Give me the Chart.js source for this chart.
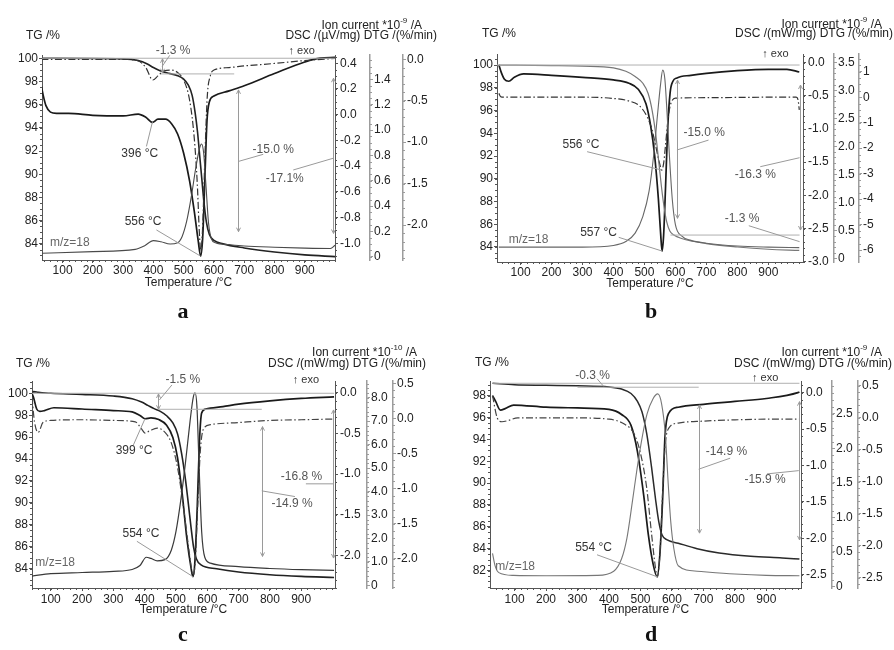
<!DOCTYPE html>
<html><head><meta charset="utf-8">
<script src="https://cdn.jsdelivr.net/npm/chart.js@4.4.1/dist/chart.umd.min.js"></script>
<style>
body{margin:0;background:#fff;width:894px;height:650px;position:relative;overflow:hidden;font-family:'Liberation Sans',Arial,Helvetica,sans-serif;}
canvas{position:absolute;}
.h{position:absolute;font-size:12px;line-height:14px;color:#222;white-space:nowrap;}
.h sup{font-size:8px;position:relative;top:-1px;}
.let{position:absolute;width:30px;text-align:center;font-family:'Liberation Serif','Times New Roman',serif;font-weight:bold;font-size:22px;line-height:22px;color:#111;}
</style></head><body>
<canvas id="ca" width="447" height="300" style="left:0;top:0"></canvas>
<canvas id="cb" width="447" height="300" style="left:447px;top:0"></canvas>
<canvas id="cc" width="447" height="300" style="left:0;top:320px"></canvas>
<canvas id="cd" width="447" height="300" style="left:447px;top:320px"></canvas>

<div class="h" style="left:26px;top:28px">TG /%</div>
<div class="h" style="right:472px;top:15px">Ion current *10<sup>-9</sup> /A</div>
<div class="h" style="right:457px;top:28px">DSC /(µV/mg) DTG /(%/min)</div>

<div class="h" style="left:482px;top:26px">TG /%</div>
<div class="h" style="right:12px;top:14px">Ion current *10<sup>-9</sup> /A</div>
<div class="h" style="right:1px;top:26px">DSC /(mW/mg) DTG /(%/min)</div>

<div class="h" style="left:16px;top:356px">TG /%</div>
<div class="h" style="right:477px;top:342px">Ion current *10<sup>-10</sup> /A</div>
<div class="h" style="right:468px;top:356px">DSC /(mW/mg) DTG /(%/min)</div>

<div class="h" style="left:475px;top:355px">TG /%</div>
<div class="h" style="right:12px;top:342px">Ion current *10<sup>-9</sup> /A</div>
<div class="h" style="right:2px;top:356px">DSC /(mW/mg) DTG /(%/min)</div>

<div class="let" style="left:168px;top:300px">a</div>
<div class="let" style="left:636px;top:300px">b</div>
<div class="let" style="left:168px;top:623px">c</div>
<div class="let" style="left:636px;top:623px">d</div>

<script>
// ================= DATA =================
const xTickLabels = ['100','200','300','400','500','600','700','800','900'];

// ---- panel a ----
const aTgTicks  = ['84','86','88','90','92','94','96','98','100'];
const aDscTicks = ['-1.0','-0.8','-0.6','-0.4','-0.2','0.0','0.2','0.4'];
const aIonTicks = ['0','0.2','0.4','0.6','0.8','1.0','1.2','1.4'];
const aDtgTicks = ['-2.0','-1.5','-1.0','-0.5','0.0'];
const aTG_T  = [30,300,350,380,400,420,450,480,500,515,528,538,546,553,560,567,575,585,600,630,700,800,900,1000];
const aTG    = [100.0,99.95,99.8,99.5,99.2,98.95,98.7,98.5,98.2,97.7,96.8,95.3,93.6,91.6,89.6,87.6,85.9,84.8,84.3,84.0,83.65,83.3,83.05,82.9];
const aDSC_T = [30,36,45,60,80,120,200,300,350,375,397,415,440,460,480,500,520,535,548,556,563,570,577,585,600,650,700,800,900,950,1000];
const aDSC   = [0.22,0.15,0.07,0.02,0.01,0.01,-0.005,-0.01,0.005,-0.02,-0.06,-0.035,-0.035,-0.07,-0.15,-0.3,-0.52,-0.75,-0.98,-1.10,-0.95,-0.5,-0.05,0.1,0.145,0.185,0.225,0.32,0.41,0.44,0.445];
const aIon_T = [30,200,340,370,400,425,455,480,495,510,525,540,552,559,566,574,582,592,605,650,700,800,900,985,1000];
const aIon   = [0.027,0.04,0.058,0.085,0.127,0.118,0.10,0.11,0.16,0.28,0.47,0.70,0.85,0.89,0.82,0.55,0.27,0.14,0.11,0.095,0.085,0.075,0.068,0.065,0.09];
const aDTG_T = [30,300,350,375,398,415,435,460,480,500,520,535,545,552,557,563,570,578,588,600,650,700,800,900,1000];
const aDTG   = [0,0,-0.02,-0.1,-0.25,-0.2,-0.14,-0.13,-0.16,-0.25,-0.5,-0.95,-1.5,-2.1,-2.32,-2.0,-1.2,-0.45,-0.2,-0.13,-0.1,-0.08,-0.05,-0.015,0.01];

// ---- panel b ----
const bTgTicks  = ['84','86','88','90','92','94','96','98','100'];
const bDscTicks = ['-3.0','-2.5','-2.0','-1.5','-1.0','-0.5','0.0'];
const bIonTicks = ['0','0.5','1.0','1.5','2.0','2.5','3.0','3.5'];
const bDtgTicks = ['-6','-5','-4','-3','-2','-1','0','1'];
const bTG_T  = [30,200,300,400,440,470,495,512,525,537,547,555,563,572,582,595,620,700,800,900,1000];
const bTG    = [100,99.95,99.9,99.75,99.45,99.0,98.4,97.5,96.0,93.8,91.3,89.3,87.6,86.2,85.4,85.05,84.75,84.3,84.0,83.8,83.7];
const bDSC_T = [30,38,48,62,80,110,200,300,400,450,480,505,520,533,545,552,557,562,568,575,583,592,605,650,700,800,900,960,1000];
const bDSC   = [-0.03,-0.15,-0.25,-0.28,-0.22,-0.17,-0.19,-0.22,-0.26,-0.31,-0.4,-0.62,-0.95,-1.4,-2.05,-2.55,-2.84,-2.6,-1.9,-1.0,-0.45,-0.28,-0.23,-0.19,-0.16,-0.12,-0.1,-0.1,-0.14];
const bIon_T = [30,200,300,400,440,470,495,515,530,542,552,559,566,573,581,590,600,620,650,700,800,900,1000];
const bIon   = [0.2,0.2,0.2,0.23,0.3,0.45,0.75,1.2,1.85,2.55,3.1,3.36,3.2,2.6,1.8,1.05,0.6,0.4,0.32,0.27,0.22,0.2,0.19];
const bDTG_T = [30,36,45,300,400,450,485,510,525,538,548,556,562,568,575,582,590,600,700,900,990,996,1000];
const bDTG   = [0.15,0.02,0.0,0.0,-0.05,-0.15,-0.35,-0.8,-1.3,-2.0,-2.55,-2.86,-2.6,-1.9,-1.0,-0.4,-0.12,-0.04,-0.02,0.0,0.0,-0.1,-0.5];

// ---- panel c ----
const cTgTicks  = ['84','86','88','90','92','94','96','98','100'];
const cDscTicks = ['-2.0','-1.5','-1.0','-0.5','0.0'];
const cIonTicks = ['0','1.0','2.0','3.0','4.0','5.0','6.0','7.0','8.0'];
const cDtgTicks = ['-2.0','-1.5','-1.0','-0.5','0.0','0.5'];
const cTG_T  = [40,45,60,100,200,300,360,390,410,430,450,470,490,505,518,530,540,548,556,565,580,630,700,800,900,1005];
const cTG    = [100.0,100.15,100.1,100.0,99.9,99.75,99.5,99.2,98.9,98.6,98.35,97.95,97.3,96.3,94.5,92.2,89.8,87.8,86.0,84.9,84.35,84.0,83.7,83.45,83.3,83.2];
const cDSC_T = [40,45,55,65,80,110,200,300,360,385,401,420,445,470,490,505,520,535,548,554,560,568,575,582,595,650,700,800,900,1005];
const cDSC   = [-0.01,-0.06,-0.2,-0.23,-0.22,-0.185,-0.2,-0.22,-0.235,-0.28,-0.32,-0.31,-0.33,-0.4,-0.55,-0.8,-1.25,-1.8,-2.15,-2.26,-2.1,-1.4,-0.6,-0.25,-0.2,-0.17,-0.14,-0.1,-0.07,-0.05];
const cIon_T = [40,100,200,300,360,385,405,420,440,465,485,500,515,530,545,555,561,567,574,582,592,610,700,800,900,1005];
const cIon   = [0.4,0.5,0.55,0.6,0.68,0.85,1.2,1.15,1.05,1.1,1.5,2.3,3.6,5.2,7.0,8.0,8.21,7.6,5.0,2.3,1.2,0.95,0.8,0.72,0.67,0.64];
const cDTG_T = [40,48,60,75,100,200,300,370,390,401,415,440,465,485,505,525,542,552,556,562,570,578,588,610,700,800,900,1005];
const cDTG   = [0.3,-0.05,-0.2,-0.06,-0.03,-0.02,-0.03,-0.05,-0.15,-0.21,-0.18,-0.14,-0.2,-0.35,-0.7,-1.3,-1.9,-2.2,-2.23,-2.0,-1.2,-0.45,-0.15,-0.09,-0.06,-0.03,-0.02,-0.01];

// ---- panel d ----
const dTgTicks  = ['82','84','86','88','90','92','94','96','98'];
const dDscTicks = ['-2.5','-2.0','-1.5','-1.0','-0.5','0.0'];
const dIonTicks = ['0','0.5','1.0','1.5','2.0','2.5'];
const dDtgTicks = ['-2.5','-2.0','-1.5','-1.0','-0.5','0.0','0.5'];
const dTG_T  = [30,100,200,300,400,440,470,490,505,520,535,548,558,568,585,620,680,750,850,950,1005];
const dTG    = [99.13,99.0,98.95,98.9,98.8,98.6,98.2,97.5,96.5,94.5,91.5,88.5,86.5,85.3,84.8,84.5,84.0,83.6,83.3,83.15,83.05];
const dDSC_T = [30,40,55,70,97,200,300,400,440,470,490,510,525,540,553,562,570,578,590,620,700,800,900,1000,1005];
const dDSC   = [-0.04,-0.12,-0.24,-0.22,-0.17,-0.2,-0.21,-0.23,-0.3,-0.45,-0.8,-1.4,-1.95,-2.35,-2.53,-2.2,-1.5,-0.6,-0.28,-0.2,-0.16,-0.12,-0.08,0.0,0.01];
const dIon_T = [30,38,50,97,200,362,415,440,457,475,489,505,521,540,555,567,579,588,596,606,620,680,800,900,1005];
const dIon   = [0.48,0.3,0.2,0.16,0.155,0.16,0.22,0.4,0.7,1.25,1.7,2.15,2.5,2.72,2.79,2.65,2.2,1.5,0.95,0.55,0.3,0.22,0.18,0.16,0.155];
const dDTG_T = [30,45,60,80,110,300,400,450,480,500,520,535,548,554,562,570,578,590,620,700,800,900,1005];
const dDTG   = [0.35,0.0,-0.06,-0.04,0.0,0.0,-0.02,-0.1,-0.25,-0.55,-1.1,-1.8,-2.35,-2.48,-2.1,-1.2,-0.45,-0.16,-0.08,-0.05,-0.03,-0.02,-0.02];

// ================= RENDERING =================
const FONT = "'Liberation Sans', Arial, Helvetica, sans-serif";
Chart.defaults.font.family = FONT;
Chart.defaults.font.size = 12;
Chart.defaults.color = '#222';

function yAx(pos, weight, range, labels, width, pad, col, bw) {
  return {
    type: 'linear', position: pos, weight: weight, min: range[0], max: range[1],
    afterBuildTicks: s => { s.ticks = labels.map(l => ({ value: parseFloat(l) })); },
    afterFit: s => { s.width = width; },
    ticks: { autoSkip: false, padding: pad, color: '#222', callback: (v, i) => labels[i] },
    grid: { drawOnChartArea: false, drawTicks: true, tickLength: 3, color: col },
    border: { display: true, color: col, width: bw }
  };
}

function series(T, V, axis, color, width, dash) {
  return {
    data: T.map((t, i) => ({ x: t, y: V[i] })),
    yAxisID: axis, borderColor: color, borderWidth: width, borderDash: dash || [],
    pointRadius: 0, fill: false, cubicInterpolationMode: 'monotone'
  };
}

const DASHDOT = [7, 2.5, 1.5, 2.5];

function annotPlugin(items) {
  return {
    id: 'annot',
    afterDatasetsDraw(chart) {
      const c = chart.ctx, xs = chart.scales.x;
      const P = (T, v, ax) => [xs.getPixelForValue(T), chart.scales[ax || 'tg'].getPixelForValue(v)];
      c.save();
      c.lineWidth = 1;
      for (const it of items) {
        if (it.t === 'ln') {
          const a = P(...it.a), b = P(...it.b);
          c.strokeStyle = it.c || '#9a9a9a';
          c.beginPath(); c.moveTo(a[0], a[1]); c.lineTo(b[0], b[1]); c.stroke();
        } else if (it.t === 'dbl') {
          const a = P(it.T, it.v1), b = P(it.T, it.v2);
          const x = Math.round(a[0]) + 0.5;
          c.strokeStyle = '#9a9a9a';
          c.beginPath(); c.moveTo(x, a[1]); c.lineTo(x, b[1]); c.stroke();
          c.beginPath(); c.moveTo(x - 2, a[1] + 4); c.lineTo(x, a[1]); c.lineTo(x + 2, a[1] + 4); c.stroke();
          c.beginPath(); c.moveTo(x - 2, b[1] - 4); c.lineTo(x, b[1]); c.lineTo(x + 2, b[1] - 4); c.stroke();
        } else if (it.t === 'tx') {
          const p = P(it.T, it.v);
          c.fillStyle = it.c || '#555';
          c.font = (it.s || 12) + 'px ' + FONT;
          c.textAlign = 'center'; c.textBaseline = 'middle';
          c.fillText(it.txt, p[0], p[1]);
        }
      }
      c.restore();
    }
  };
}

function minorPlugin(spec) {
  return {
    id: 'minor',
    afterDraw(chart) {
      const c = chart.ctx;
      c.save(); c.lineWidth = 1;
      for (const id in spec) {
        const s = chart.scales[id], step = spec[id];
        c.strokeStyle = s.options.border.color;
        const start = Math.ceil(s.min / step - 1e-9);
        for (let k = start; k * step <= s.max + 1e-9; k++) {
          const p = Math.round(s.getPixelForValue(k * step)) + 0.5;
          c.beginPath();
          if (id === 'x') { c.moveTo(p, s.top); c.lineTo(p, s.top + 2); }
          else if (s.position === 'left') { c.moveTo(s.right, p); c.lineTo(s.right - 2, p); }
          else { c.moveTo(s.left, p); c.lineTo(s.left + 2, p); }
          c.stroke();
        }
      }
      c.restore();
    }
  };
}

function build(id, P) {
  const scales = {
    x: {
      type: 'linear', position: 'bottom', min: P.x[0], max: P.x[1],
      afterBuildTicks: s => { s.ticks = xTickLabels.map(l => ({ value: parseFloat(l) })); },
      afterFit: s => { s.height = P.xh; },
      ticks: { autoSkip: false, maxRotation: 0, padding: P.xpad, color: '#222', callback: (v, i) => xTickLabels[i] },
      grid: { drawOnChartArea: false, tickLength: 3, color: '#555' },
      border: { color: '#555', width: 1 },
      title: { display: true, text: 'Temperature /°C', color: '#222', font: { size: 12 }, padding: { top: 0, bottom: P.tpad } }
    },
    tg:  yAx('left', 0, P.tg, P.ticks[0], P.lw, 1, '#555', 1),
    dsc: yAx('right', 1, P.dsc, P.ticks[1], P.rw[0], 2, '#555', 1),
    ion: yAx('right', 2, P.ion, P.ticks[2], P.rw[1], 1, '#9c9c9c', 1.5),
    dtg: yAx('right', 3, P.dtg, P.ticks[3], P.rw[2], 1, '#9c9c9c', 1.5)
  };
  new Chart(document.getElementById(id), {
    type: 'line',
    data: { datasets: P.ds },
    options: {
      responsive: false, animation: false, devicePixelRatio: 1,
      layout: { padding: { top: P.top, left: 0, right: 0, bottom: 0 } },
      plugins: { legend: { display: false }, tooltip: { enabled: false } },
      scales: scales
    },
    plugins: [annotPlugin(P.ann), minorPlugin(P.minor)]
  });
}

// ---- panel a ----
build('ca', {
  x: [32, 1000], xh: 40, xpad: 0, tpad: 10, top: 55, lw: 42, rw: [35, 33, 44],
  tg: [82.61, 100.28], dsc: [-1.13, 0.464], ion: [-0.026, 1.592], dtg: [-2.422, 0.052],
  ticks: [aTgTicks, aDscTicks, aIonTicks, aDtgTicks],
  minor: { x: 20, tg: 0.5, dsc: 0.05, ion: 0.05, dtg: 0.1 },
  ds: [
    series(aIon_T, aIon, 'ion', '#4a4a4a', 1.1),
    series(aDTG_T, aDTG, 'dtg', '#333', 1.2, DASHDOT),
    series(aTG_T, aTG, 'tg', '#222', 1.6),
    series(aDSC_T, aDSC, 'dsc', '#1a1a1a', 1.7)
  ],
  ann: [
    { t: 'ln', a: [32, 100], b: [1000, 100], c: '#b0b0b0' },
    { t: 'ln', a: [425, 98.65], b: [667, 98.65], c: '#b0b0b0' },
    { t: 'dbl', T: 429, v1: 99.95, v2: 98.75 },
    { t: 'ln', a: [429, 99.3], b: [454, 100.25] },
    { t: 'tx', T: 465, v: 100.66, txt: '-1.3 %' },
    { t: 'dbl', T: 680, v1: 97.27, v2: 85.05 },
    { t: 'ln', a: [680, 91.1], b: [763, 91.72] },
    { t: 'tx', T: 796, v: 92.09, txt: '-15.0 %' },
    { t: 'dbl', T: 994, v1: 98.28, v2: 84.9 },
    { t: 'ln', a: [994, 91.38], b: [862, 90.37] },
    { t: 'tx', T: 834, v: 89.66, txt: '-17.1%' },
    { t: 'tx', T: 355, v: 91.8, txt: '396 °C', c: '#333' },
    { t: 'ln', a: [377, 92.4], b: [397, -0.055, 'dsc'] },
    { t: 'tx', T: 366, v: 85.9, txt: '556 °C', c: '#333' },
    { t: 'ln', a: [410, 85.2], b: [556, -1.10, 'dsc'] },
    { t: 'tx', T: 124, v: 84.14, txt: 'm/z=18', c: '#666' },
    { t: 'tx', T: 890, v: 100.6, txt: '↑ exo', c: '#333', s: 11 }
  ]
});

// ---- panel b ----
build('cb', {
  x: [24, 1012], xh: 38, xpad: 0, tpad: 9.5, top: 54, lw: 50, rw: [31, 25, 35],
  tg: [82.68, 100.97], dsc: [-3.005, 0.131], ion: [-0.066, 3.648], dtg: [-6.47, 1.696],
  ticks: [bTgTicks, bDscTicks, bIonTicks, bDtgTicks],
  minor: { x: 20, tg: 0.5, dsc: 0.1, ion: 0.1, dtg: 0.25 },
  ds: [
    series(bIon_T, bIon, 'ion', '#666', 1.1),
    series(bTG_T, bTG, 'tg', '#777', 1.2),
    series(bDTG_T, bDTG, 'dtg', '#333', 1.2, DASHDOT),
    series(bDSC_T, bDSC, 'dsc', '#1a1a1a', 1.7)
  ],
  ann: [
    { t: 'ln', a: [24, 100], b: [1001, 100], c: '#b0b0b0' },
    { t: 'ln', a: [584, 85.05], b: [1001, 85.05], c: '#b0b0b0' },
    { t: 'dbl', T: 605, v1: 98.68, v2: 86.52 },
    { t: 'ln', a: [605, 92.53], b: [707, 93.4] },
    { t: 'tx', T: 693, v: 94.08, txt: '-15.0 %' },
    { t: 'dbl', T: 1001, v1: 98.24, v2: 85.49 },
    { t: 'ln', a: [1001, 91.85], b: [874, 91.06] },
    { t: 'tx', T: 858, v: 90.33, txt: '-16.3 %' },
    { t: 'tx', T: 815, v: 86.46, txt: '-1.3 %' },
    { t: 'ln', a: [837, 85.87], b: [1001, 84.47] },
    { t: 'tx', T: 295, v: 92.97, txt: '556 °C', c: '#333' },
    { t: 'ln', a: [315, 92.38], b: [556, -2.86, 'dtg'] },
    { t: 'tx', T: 352, v: 85.26, txt: '557 °C', c: '#333' },
    { t: 'ln', a: [417, 84.85], b: [557, -2.84, 'dsc'] },
    { t: 'tx', T: 126, v: 84.68, txt: 'm/z=18', c: '#666' },
    { t: 'tx', T: 923, v: 101.0, txt: '↑ exo', c: '#333', s: 11 }
  ]
});

// ---- panel c ----
build('cc', {
  x: [40, 1008], xh: 32, xpad: 1, tpad: 3.5, top: 61, lw: 32, rw: [32, 26, 54],
  tg: [82.24, 101.12], dsc: [-2.40, 0.144], ion: [-0.11, 8.71], dtg: [-2.418, 0.532],
  ticks: [cTgTicks, cDscTicks, cIonTicks, cDtgTicks],
  minor: { x: 20, tg: 0.5, dsc: 0.1, ion: 0.2, dtg: 0.1 },
  ds: [
    series(cIon_T, cIon, 'ion', '#3a3a3a', 1.2),
    series(cDTG_T, cDTG, 'dtg', '#444', 1.2, DASHDOT),
    series(cTG_T, cTG, 'tg', '#222', 1.6),
    series(cDSC_T, cDSC, 'dsc', '#1a1a1a', 1.7)
  ],
  ann: [
    { t: 'ln', a: [40, 100], b: [1005, 100], c: '#b0b0b0' },
    { t: 'ln', a: [444, 98.54], b: [774, 98.54], c: '#b0b0b0' },
    { t: 'dbl', T: 444, v1: 99.94, v2: 98.54 },
    { t: 'ln', a: [447, 99.39], b: [487, 100.76] },
    { t: 'tx', T: 522, v: 101.21, txt: '-1.5 %' },
    { t: 'dbl', T: 774, v1: 96.96, v2: 85.12 },
    { t: 'ln', a: [774, 91.1], b: [880, 90.58] },
    { t: 'tx', T: 871, v: 89.89, txt: '-14.9 %' },
    { t: 'dbl', T: 1002, v1: 98.48, v2: 84.97 },
    { t: 'ln', a: [915, 91.74], b: [1002, 91.74] },
    { t: 'tx', T: 901, v: 92.4, txt: '-16.8 %' },
    { t: 'tx', T: 366, v: 94.77, txt: '399 °C', c: '#333' },
    { t: 'ln', a: [364, 95.29], b: [401, -0.32, 'dsc'] },
    { t: 'tx', T: 388, v: 87.16, txt: '554 °C', c: '#333' },
    { t: 'ln', a: [375, 86.5], b: [554, -2.26, 'dsc'] },
    { t: 'tx', T: 114, v: 84.57, txt: 'm/z=18', c: '#666' },
    { t: 'tx', T: 915, v: 101.21, txt: '↑ exo', c: '#333', s: 11 }
  ]
});

// ---- panel d ----
build('cd', {
  x: [22, 1010], xh: 32, xpad: 1, tpad: 3, top: 61, lw: 43, rw: [31, 26, 36],
  tg: [80.4, 99.34], dsc: [-2.683, 0.16], ion: [-0.023, 2.977], dtg: [-2.657, 0.577],
  ticks: [dTgTicks, dDscTicks, dIonTicks, dDtgTicks],
  minor: { x: 20, tg: 0.5, dsc: 0.1, ion: 0.1, dtg: 0.1 },
  ds: [
    series(dIon_T, dIon, 'ion', '#777', 1.1),
    series(dDTG_T, dDTG, 'dtg', '#444', 1.2, DASHDOT),
    series(dTG_T, dTG, 'tg', '#2a2a2a', 1.5),
    series(dDSC_T, dDSC, 'dsc', '#1a1a1a', 1.7)
  ],
  ann: [
    { t: 'ln', a: [30, 99.13], b: [1005, 99.13], c: '#b0b0b0' },
    { t: 'ln', a: [300, 98.77], b: [685, 98.77], c: '#b0b0b0' },
    { t: 'ln', a: [362, 99.55], b: [383, 98.85] },
    { t: 'tx', T: 348, v: 99.8, txt: '-0.3 %' },
    { t: 'dbl', T: 685, v1: 97.15, v2: 85.42 },
    { t: 'ln', a: [685, 91.27], b: [785, 92.28] },
    { t: 'tx', T: 773, v: 92.88, txt: '-14.9 %' },
    { t: 'dbl', T: 1003, v1: 97.45, v2: 84.8 },
    { t: 'ln', a: [1003, 91.14], b: [902, 90.84] },
    { t: 'tx', T: 896, v: 90.3, txt: '-15.9 %' },
    { t: 'tx', T: 351, v: 84.05, txt: '554 °C', c: '#333' },
    { t: 'ln', a: [362, 83.44], b: [554, -2.53, 'dsc'] },
    { t: 'tx', T: 102, v: 82.31, txt: 'm/z=18', c: '#666' },
    { t: 'tx', T: 896, v: 99.59, txt: '↑ exo', c: '#333', s: 11 }
  ]
});
</script>
</body></html>
